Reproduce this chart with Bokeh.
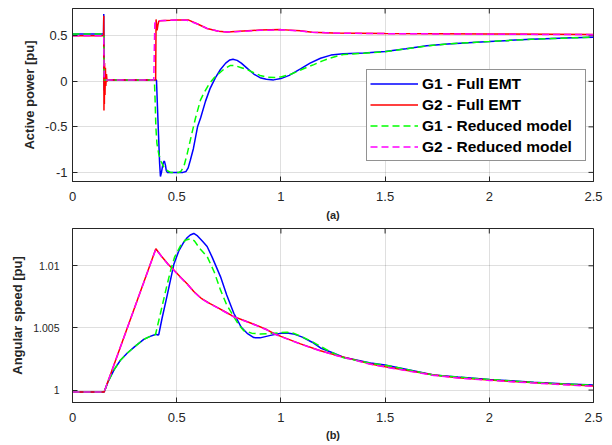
import math
from bokeh.plotting import figure
from bokeh.models import Range1d, FixedTicker, CustomJSTickFormatter
from bokeh.layouts import column
from bokeh.embed import file_html
from bokeh.resources import INLINE

FONT = "Liberation Sans"
TXT = "#262626"

# ---------------- ticks ----------------
x_ticks = [0, 0.5, 1, 1.5, 2, 2.5]
pa_ticks = [-1, -0.5, 0, 0.5]
w_ticks = [1, 1.005, 1.01]
x_lim = (0, 2.5)
pa_lim = (-1.1, 0.8)
w_lim = (0.999, 1.013)

# ---------------- data: (a) active power ----------------
g1_full_t = [0, 0.149, 0.150, 0.152, 0.154, 0.156, 0.158, 0.16, 0.403, 0.408, 0.413, 0.418, 0.422,
             0.427, 0.432, 0.437, 0.441, 0.446, 0.45, 0.455, 0.5, 0.53, 0.545, 0.555, 0.565, 0.58,
             0.60, 0.615, 0.638, 0.66, 0.686, 0.71, 0.735, 0.755, 0.77, 0.79, 0.81, 0.84, 0.87,
             0.9, 0.93, 0.965, 1.0, 1.04, 1.094, 1.14, 1.19, 1.24, 1.3, 1.4, 1.5, 1.6, 1.7, 1.8,
             1.9, 2.0, 2.1, 2.2, 2.3, 2.4, 2.5]
g1_full_p = [0.52, 0.52, 0.74, -0.1, 0.1, -0.02, 0.03, 0.015, 0.015, -0.3, -0.6, -0.9, -1.045,
             -1.0, -0.93, -0.885, -0.876, -0.92, -0.98, -1.0, -1.0, -1.0, -0.99, -0.95, -0.87, -0.74,
             -0.5, -0.4, -0.22, -0.08, 0.04, 0.13, 0.2, 0.235, 0.243, 0.23, 0.2, 0.14, 0.08,
             0.04, 0.022, 0.016, 0.03, 0.065, 0.136, 0.2, 0.254, 0.288, 0.302, 0.31, 0.327, 0.357,
             0.39, 0.41, 0.425, 0.437, 0.45, 0.461, 0.47, 0.478, 0.485]

g2_full_t = [0, 0.149, 0.150, 0.151, 0.152, 0.153, 0.154, 0.156, 0.158, 0.16, 0.163, 0.166, 0.17,
             0.399, 0.401, 0.406, 0.41, 0.414, 0.42, 0.44, 0.47, 0.5, 0.558, 0.6, 0.646, 0.7,
             0.742, 0.8, 0.9, 1.0, 1.094, 1.15, 1.25, 1.5, 2.0, 2.5]
g2_full_p = [0.5, 0.5, 0.72, -0.32, 0.25, -0.25, 0.2, -0.15, 0.15, -0.05, 0.08, 0.0, 0.015,
             0.015, 0.68, 0.56, 0.62, 0.66, 0.665, 0.668, 0.67, 0.673, 0.673, 0.63, 0.58, 0.55,
             0.542, 0.55, 0.563, 0.568, 0.555, 0.54, 0.53, 0.525, 0.52, 0.515]

g1_red_t = [0, 0.15, 0.152, 0.393, 0.397, 0.4, 0.405, 0.414, 0.425, 0.438, 0.455, 0.47, 0.51,
            0.52, 0.535, 0.55, 0.57, 0.59, 0.614, 0.63, 0.655, 0.678, 0.7, 0.73, 0.758, 0.78,
            0.81, 0.838, 0.87, 0.9, 0.934, 0.97, 1.0, 1.05, 1.1, 1.158, 1.2, 1.238, 1.3, 1.4,
            1.5, 1.6, 1.7, 1.8, 1.9, 2.0, 2.1, 2.2, 2.3, 2.4, 2.5]
g1_red_p = [0.52, 0.52, 0.015, 0.015, -0.25, -0.5, -0.68, -0.8, -0.88, -0.94, -0.98, -1.0, -1.0,
            -0.99, -0.93, -0.8, -0.6, -0.405, -0.206, -0.13, -0.03, 0.035, 0.08, 0.14, 0.175, 0.172,
            0.15, 0.128, 0.095, 0.065, 0.044, 0.042, 0.048, 0.08, 0.13, 0.184, 0.225, 0.257, 0.295, 0.308,
            0.326, 0.356, 0.389, 0.41, 0.425, 0.437, 0.45, 0.461, 0.47, 0.478, 0.485]

g2_red_t = [0, 0.15, 0.152, 0.39, 0.395, 0.405, 0.42, 0.5, 0.55, 0.6, 0.646, 0.7, 0.742, 0.8,
            0.9, 1.0, 1.094, 1.15, 1.25, 1.5, 2.0, 2.5]
g2_red_p = [0.5, 0.5, 0.015, 0.015, 0.64, 0.655, 0.665, 0.675, 0.67, 0.63, 0.58, 0.55, 0.542,
            0.548, 0.56, 0.566, 0.553, 0.54, 0.53, 0.524, 0.518, 0.513]

# ---------------- data: (b) angular speed ----------------
w1_full_t = [0, 0.152, 0.17, 0.2, 0.23, 0.262, 0.3, 0.342, 0.37, 0.40, 0.41, 0.414, 0.43, 0.454,
             0.486, 0.51, 0.534, 0.55, 0.565, 0.582, 0.6, 0.625, 0.646, 0.67, 0.71, 0.74, 0.774,
             0.81, 0.838, 0.87, 0.9, 0.95, 1.0, 1.03, 1.06, 1.1, 1.15, 1.19, 1.254, 1.3, 1.43,
             1.5, 1.6, 1.734, 1.85, 2.0, 2.1, 2.213, 2.35, 2.5]
w1_full_w = [0.99985, 0.99985, 1.00065, 1.00165, 1.0024, 1.00296, 1.00352, 1.00408, 1.0043, 1.00449,
             1.00443, 1.00447, 1.0058, 1.0076, 1.0101, 1.0112, 1.0119, 1.01225, 1.01248, 1.0126,
             1.0124, 1.01195, 1.01155, 1.0107, 1.00913, 1.00765, 1.00618, 1.00505, 1.00457, 1.00422,
             1.0042, 1.0044, 1.00457, 1.00459, 1.00452, 1.00428, 1.00385, 1.00339, 1.00296, 1.00264,
             1.00218, 1.00202, 1.00168, 1.00121, 1.00105, 1.00086, 1.00075, 1.00062, 1.0005, 1.0004]

w1_red_t = [0, 0.152, 0.17, 0.2, 0.23, 0.262, 0.3, 0.342, 0.37, 0.398, 0.41, 0.43, 0.45, 0.47,
            0.49, 0.518, 0.54, 0.566, 0.585, 0.61, 0.646, 0.68, 0.71, 0.74, 0.774, 0.8, 0.822,
            0.86, 0.902, 0.95, 1.0, 1.03, 1.06, 1.1, 1.15, 1.19, 1.25, 1.302, 1.43, 1.5, 1.6,
            1.734, 1.85, 2.0, 2.1, 2.213, 2.35, 2.5]
w1_red_w = [0.99985, 0.99985, 1.00065, 1.00165, 1.0024, 1.00296, 1.00352, 1.00408, 1.0043, 1.00446,
            1.0053, 1.00675, 1.0082, 1.00957, 1.0107, 1.0116, 1.01205, 1.01218, 1.012, 1.0114,
            1.01075, 1.0095, 1.00806, 1.00685, 1.0059, 1.0052, 1.00478, 1.00458, 1.00451, 1.00455,
            1.00462, 1.00465, 1.00458, 1.0043, 1.0039, 1.00352, 1.00298, 1.00259, 1.00216, 1.002,
            1.00167, 1.0012, 1.00104, 1.00085, 1.00074, 1.00061, 1.00049, 1.0004]

w2_full_t = [0, 0.152, 0.40, 0.43, 0.46, 0.486, 0.52, 0.55, 0.582, 0.62, 0.66, 0.694, 0.73, 0.774,
             0.82, 0.87, 0.934, 0.966, 1.0, 1.094, 1.19, 1.254, 1.35, 1.43, 1.502, 1.6, 1.734,
             1.85, 2.0, 2.2, 2.35, 2.5]
w2_full_w = [0.99985, 0.99985, 1.01137, 1.0107, 1.0101, 1.00967, 1.00905, 1.00855, 1.00793, 1.00735,
             1.00695, 1.00666, 1.00632, 1.00591, 1.00562, 1.0053, 1.00485, 1.00455, 1.00432, 1.00372,
             1.00317, 1.00285, 1.00245, 1.0021, 1.00188, 1.0016, 1.00121, 1.001, 1.00081, 1.0006,
             1.00046, 1.00032]

w2_red_t = [0, 0.152, 0.40, 0.43, 0.46, 0.486, 0.52, 0.55, 0.582, 0.62, 0.66, 0.694, 0.73, 0.774,
            0.82, 0.87, 0.934, 0.966, 1.0, 1.094, 1.19, 1.254, 1.35, 1.43, 1.502, 1.6, 1.734,
            1.85, 2.0, 2.2, 2.35, 2.5]
w2_red_w = [0.99985, 0.99985, 1.01135, 1.01068, 1.01008, 1.00965, 1.00903, 1.00853, 1.00791, 1.00733,
            1.00693, 1.00664, 1.0063, 1.00589, 1.0056, 1.00528, 1.00483, 1.00453, 1.0043, 1.0037,
            1.00315, 1.00283, 1.00243, 1.00207, 1.00185, 1.00157, 1.00118, 1.00097, 1.00078, 1.00058,
            1.00044, 1.0003]

labels = ["G1 - Full EMT", "G2 - Full EMT", "G1 - Reduced model", "G2 - Reduced model"]
colors = ["#0000ff", "#ff0000", "#00ff00", "#ff00ff"]

fmt = CustomJSTickFormatter(code="return String(parseFloat(tick.toFixed(6)));")


def style(p, yticks, ylim, ytick_size, ytick_standoff, ylabel, xlabel):
    p.outline_line_color = TXT
    p.outline_line_width = 1
    p.background_fill_color = "white"
    p.border_fill_color = "white"
    for ax in (p.xaxis[0], p.yaxis[0]):
        ax.axis_line_color = TXT
        ax.major_tick_line_color = TXT
        ax.major_tick_in = 5
        ax.major_tick_out = 0
        ax.minor_tick_line_color = None
        ax.major_label_text_font = FONT
        ax.major_label_text_color = TXT
        ax.formatter = fmt
    p.xaxis[0].ticker = FixedTicker(ticks=x_ticks)
    p.yaxis[0].ticker = FixedTicker(ticks=yticks)
    p.xaxis[0].major_label_text_font_size = "13px"
    p.xaxis[0].major_label_standoff = 10
    p.yaxis[0].major_label_text_font_size = ytick_size
    p.yaxis[0].major_label_standoff = ytick_standoff
    p.yaxis[0].axis_label = ylabel
    p.yaxis[0].axis_label_text_font = FONT
    p.yaxis[0].axis_label_text_font_style = "bold"
    p.yaxis[0].axis_label_text_font_size = "13px"
    p.yaxis[0].axis_label_text_color = TXT
    p.yaxis[0].axis_label_standoff = 5
    p.xaxis[0].axis_label = xlabel
    p.xaxis[0].axis_label_text_font = FONT
    p.xaxis[0].axis_label_text_font_style = "bold"
    p.xaxis[0].axis_label_text_font_size = "11px"
    p.xaxis[0].axis_label_text_color = TXT
    p.xaxis[0].axis_label_standoff = 5
    p.xgrid.ticker = FixedTicker(ticks=x_ticks)
    p.ygrid.ticker = FixedTicker(ticks=yticks)
    for g in (p.xgrid, p.ygrid):
        g.grid_line_color = TXT
        g.grid_line_alpha = 0.15
        g.grid_line_width = 1
    # mirrored inward ticks on the top and right edges (half of each dash is clipped by the frame)
    p.scatter(x_ticks, [ylim[1]] * len(x_ticks), marker="dash", angle=math.pi / 2, size=10,
              line_color=TXT, line_width=1)
    p.scatter([x_lim[1]] * len(yticks), yticks, marker="dash", size=10,
              line_color=TXT, line_width=1)


W = 606
p1 = figure(width=W, height=224, output_backend="svg", toolbar_location=None,
            x_range=Range1d(*x_lim), y_range=Range1d(*pa_lim),
            min_border_left=72, min_border_right=13, min_border_top=8, min_border_bottom=43)
style(p1, pa_ticks, pa_lim, "13px", 5, "Active power [pu]", "(a)")

p1.line(g1_full_t, g1_full_p, line_color=colors[0], line_width=1.5, legend_label=labels[0])
p1.line(g2_full_t, g2_full_p, line_color=colors[1], line_width=1.5, legend_label=labels[1])
p1.line(g1_red_t, g1_red_p, line_color=colors[2], line_width=1.5, line_dash="7 4",
        legend_label=labels[2])
p1.line(g2_red_t, g2_red_p, line_color=colors[3], line_width=1.5, line_dash="7 4",
        legend_label=labels[3])

lg = p1.legend[0]
lg.location = (294, 20)
lg.label_text_font = FONT
lg.label_text_font_style = "bold"
lg.label_text_font_size = "15.5px"
lg.label_text_color = "black"
lg.glyph_width = 48
lg.glyph_height = 21
lg.label_height = 21
lg.label_width = 160
lg.label_standoff = 4
lg.spacing = 0
lg.padding = 3
lg.margin = 0
lg.border_line_color = TXT
lg.border_line_width = 1
lg.background_fill_color = "white"
lg.background_fill_alpha = 1

p2 = figure(width=W, height=221, output_backend="svg", toolbar_location=None,
            x_range=Range1d(*x_lim), y_range=Range1d(*w_lim),
            min_border_left=72, min_border_right=13, min_border_top=4, min_border_bottom=43)
style(p2, w_ticks, w_lim, "10.5px", 13, "Angular speed [pu]", "(b)")
p2.xaxis[0].major_label_standoff = 10
p2.xaxis[0].axis_label_standoff = 4

p2.line(w1_full_t, w1_full_w, line_color=colors[0], line_width=1.5)
p2.line(w2_full_t, w2_full_w, line_color=colors[1], line_width=1.5)
p2.line(w1_red_t, w1_red_w, line_color=colors[2], line_width=1.5, line_dash="7 4")
p2.line(w2_red_t, w2_red_w, line_color=colors[3], line_width=1.5, line_dash="7 4")

layout = column(p1, p2, spacing=0)
open("out.html", "w").write(file_html(layout, INLINE))
